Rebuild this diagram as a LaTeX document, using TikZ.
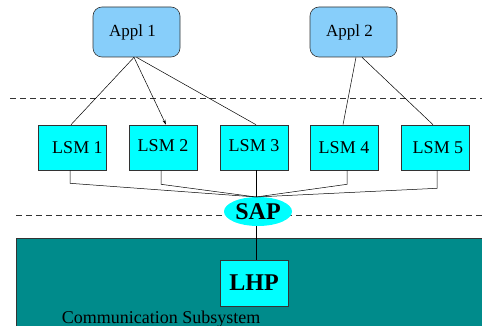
\documentclass[tikz,border=0pt]{standalone}
\usepackage{fontspec}
\setmainfont{Liberation Serif}
\usetikzlibrary{shapes.geometric,arrows.meta}
\definecolor{applblue}{HTML}{87CEFA}
\definecolor{teal2}{HTML}{008B8B}
\definecolor{aqua}{HTML}{00FFFF}
\begin{document}
\begin{tikzpicture}[x=1pt,y=-1pt,
  appl/.style={draw=black!80,fill=applblue,rounded corners=9pt,minimum width=87pt,minimum height=50pt,inner sep=0pt,font=\fontsize{17}{20}\selectfont,line width=0.6pt},
  lsm/.style={draw=black!80,fill=aqua,minimum width=68pt,minimum height=45pt,inner sep=0pt,font=\fontsize{18}{21}\selectfont,line width=0.6pt},
  conn/.style={draw=black,line width=0.5pt},
  sep/.style={draw=black!80,dashed,dash pattern=on 6pt off 4pt,line width=0.6pt}]
\useasboundingbox (0,0) rectangle (482,326);
\clip (0,0) rectangle (482,326);
% separators
\draw[sep] (10,98) -- (482,98);
\draw[sep] (16,215) -- (482,215);
% communication subsystem
\node[draw=black!80,fill=teal2,line width=0.6pt,minimum width=480pt,minimum height=100pt,inner sep=0pt,anchor=north west] (cs) at (16,238) {};
\node[font=\fontsize{18}{21}\selectfont,anchor=base] (cslabel) at (161,323) {Communication Subsystem};
% applications
\node[appl] (a1) at (136.5,32) {\hspace*{-8pt}Appl 1};
\node[appl] (a2) at (353.5,32) {\hspace*{-8pt}Appl 2};
% LSMs
\node[lsm] (l1) at (72.5,147.5) {\hspace*{10pt}LSM 1};
\node[lsm] (l2) at (163,147.5) {\raisebox{4pt}{LSM 2}};
\node[lsm] (l3) at (254,147.5) {\raisebox{4pt}{LSM 3}};
\node[lsm] (l4) at (344,147.5) {LSM 4};
\node[lsm] (l5) at (435,147.5) {\hspace*{6pt}LSM 5};
% SAP and LHP
\node[ellipse,fill=aqua,minimum width=68pt,minimum height=29pt,inner sep=0pt,font=\bfseries\fontsize{24}{28}\selectfont] (sap) at (258,211.5) {SAP};
\node[lsm,minimum height=46pt,font=\bfseries\fontsize{24}{28}\selectfont] (lhp) at (254,283) {LHP};
\coordinate (j) at (256,197);
% connectors from applications
\draw[conn] ([xshift=-2.5pt]a1.south) -- ([xshift=-1.5pt]l1.north);
\draw[conn,-{Stealth[length=5pt,width=3pt]}] ([xshift=-2.5pt]a1.south) -- ([xshift=3pt]l2.north);
\draw[conn] ([xshift=0pt]a1.south) -- ([xshift=2pt]l3.north);
\draw[conn] ([xshift=2.5pt]a2.south) -- ([xshift=-1pt]l4.north);
\draw[conn] ([xshift=8.5pt]a2.south) -- ([xshift=-2pt]l5.north);
% connectors to SAP
\draw[conn] ([xshift=-2.5pt]l1.south) -- ++(0,13) -- (j);
\draw[conn] ([xshift=-2pt]l2.south) -- ++(0,14) -- (j);
\draw[conn] ([xshift=2pt]l3.south) -- (j);
\draw[conn] ([xshift=3pt]l4.south) -- ++(0,14) -- (j);
\draw[conn] ([xshift=2pt]l5.south) -- ++(0,18) -- (j);
\draw[conn] (sap.south -| lhp.north) ++(2pt,0) -- ([xshift=2pt]lhp.north);
\end{tikzpicture}
\end{document}
